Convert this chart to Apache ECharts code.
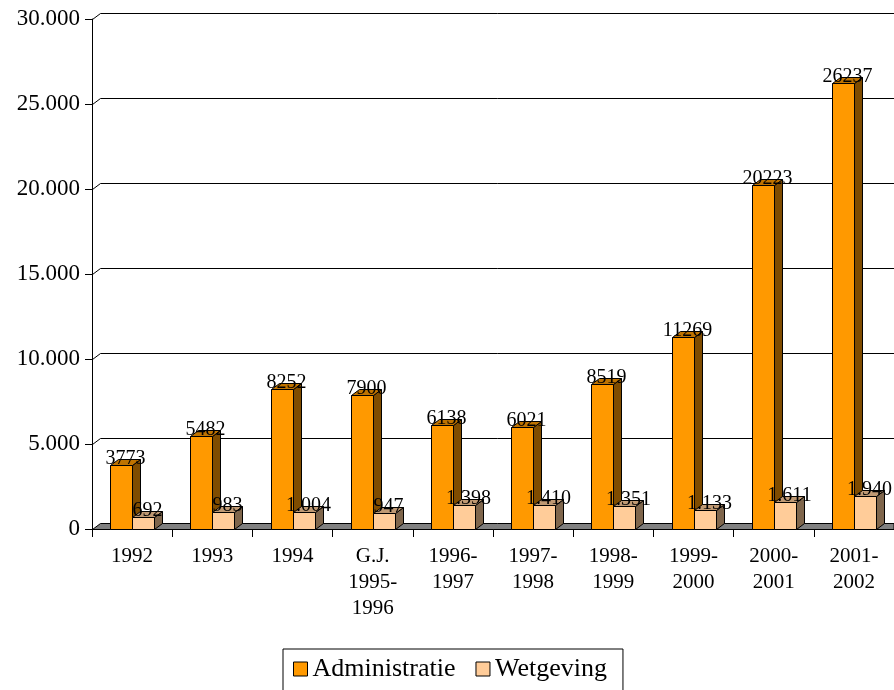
<!DOCTYPE html>
<html>
<head>
<meta charset="utf-8">
<script src="https://cdn.jsdelivr.net/npm/echarts@6/dist/echarts.min.js"></script>
<style>
html,body{margin:0;padding:0;background:#fff}
#c{width:894px;height:690px}
</style>
</head>
<body>
<div id="c"></div>
<script>
// ---- data ----
const categories = ['1992', '1993', '1994', 'G.J.\n1995-\n1996', '1996-\n1997', '1997-\n1998', '1998-\n1999', '1999-\n2000', '2000-\n2001', '2001-\n2002'];
const administratie = [3773, 5482, 8252, 7900, 6138, 6021, 8519, 11269, 20223, 26237];
const wetgeving = [692, 983, 1004, 947, 1398, 1410, 1351, 1133, 1611, 1940];
const yTicks = [0, 5000, 10000, 15000, 20000, 25000, 30000];
const seriesNames = ['Administratie', 'Wetgeving'];

// ---- style ----
const FONT = '"Liberation Serif", "Times New Roman", serif';
const DX = 8, DY = -6;
const COLORS = [
  { front: '#FF9900', top: '#BF7300', side: '#7F4C00' },
  { front: '#FFCC99', top: '#BF9973', side: '#7F664C' }
];
function dotThousands(v) { return String(v).replace(/\B(?=(\d{3})+(?!\d))/g, '.'); }
function crisp(v) { return Math.round(v) + 0.5; }

function barRenderer(side, colors, fmt) {
  return function (params, api) {
    const cat = api.value(0), val = api.value(1);
    const p0 = api.coord([cat, 0]);
    const p1 = api.coord([cat, val]);
    const bw = Math.round(api.size([1, 0])[0] * 0.275);
    const x0 = crisp(side === 0 ? p0[0] - bw : p0[0]);
    const x1 = x0 + bw;
    const yb = crisp(p0[1]), yt = crisp(p1[1]);
    return {
      type: 'group',
      children: [
        { type: 'polygon', shape: { points: [[x1, yb], [x1 + DX, yb + DY], [x1 + DX, yt + DY], [x1, yt]] },
          style: { fill: colors.side, stroke: '#000', lineWidth: 1 } },
        { type: 'polygon', shape: { points: [[x0, yt], [x0 + DX, yt + DY], [x1 + DX, yt + DY], [x1, yt]] },
          style: { fill: colors.top, stroke: '#000', lineWidth: 1 } },
        { type: 'rect', shape: { x: x0, y: yt, width: bw, height: yb - yt },
          style: { fill: colors.front, stroke: '#000', lineWidth: 1 } },
        { type: 'text', z2: 100,
          style: { text: fmt(val), x: (x0 + x1) / 2 + DX / 2, y: yt + DY - 1, align: 'center', verticalAlign: 'middle',
                   fontFamily: FONT, fontSize: 20, fill: '#000' } }
      ]
    };
  };
}

function wallRenderer(params, api) {
  const cs = params.coordSys;
  const v = api.value(1);
  const y = crisp(api.coord([0, v])[1]);
  const xl = crisp(cs.x), xr = cs.x + cs.width;
  if (v === 0) {
    return { type: 'polygon', shape: { points: [[xl, y], [xl + DX, y + DY], [xr, y + DY], [xr, y]] },
             style: { fill: '#808080', stroke: '#000', lineWidth: 1 } };
  }
  return { type: 'polyline', shape: { points: [[xl, y], [xl + DX, y + DY], [xr, y + DY]] },
           style: { stroke: '#000', lineWidth: 1, fill: null } };
}

const chart = echarts.init(document.getElementById('c'));
chart.setOption({
  animation: false,
  backgroundColor: '#fff',
  grid: { left: 92, right: 0, top: 19, bottom: 161, containLabel: false },
  xAxis: {
    type: 'category',
    data: categories,
    boundaryGap: true,
    axisLine: { show: true, lineStyle: { color: '#000', width: 1 } },
    axisTick: { show: true, length: 8, lineStyle: { color: '#000' } },
    axisLabel: { color: '#000', fontFamily: FONT, fontSize: 21, lineHeight: 26, margin: 14, interval: 0 },
    splitLine: { show: false }
  },
  yAxis: {
    type: 'value',
    min: 0, max: 30000, interval: 5000,
    axisLine: { show: true, lineStyle: { color: '#000', width: 1 } },
    axisTick: { show: true, length: 7, lineStyle: { color: '#000' } },
    axisLabel: { color: '#000', fontFamily: FONT, fontSize: 23, margin: 12, formatter: dotThousands },
    splitLine: { show: false }
  },
  legend: {
    data: [
      { name: seriesNames[0], icon: 'rect', itemStyle: { color: COLORS[0].front, borderColor: '#000', borderWidth: 1 } },
      { name: seriesNames[1], icon: 'rect', itemStyle: { color: COLORS[1].front, borderColor: '#000', borderWidth: 1 } }
    ],
    left: 283, top: 649,
    itemWidth: 14, itemHeight: 14, itemGap: 20,
    padding: [7, 16, 40, 10],
    borderColor: '#000', borderWidth: 1,
    textStyle: { color: '#000', fontFamily: FONT, fontSize: 26 },
    selectedMode: false
  },
  series: [
    { type: 'custom', name: 'wall', clip: false, silent: true,
      data: yTicks.map(v => [0, v]), renderItem: wallRenderer, encode: { x: 0, y: 1 } },
    { type: 'custom', name: seriesNames[0], clip: false,
      itemStyle: { color: COLORS[0].front },
      data: administratie.map((v, i) => [i, v]), renderItem: barRenderer(0, COLORS[0], v => String(v)), encode: { x: 0, y: 1 } },
    { type: 'custom', name: seriesNames[1], clip: false,
      itemStyle: { color: COLORS[1].front },
      data: wetgeving.map((v, i) => [i, v]), renderItem: barRenderer(1, COLORS[1], dotThousands), encode: { x: 0, y: 1 } }
  ]
});
</script>
</body>
</html>
